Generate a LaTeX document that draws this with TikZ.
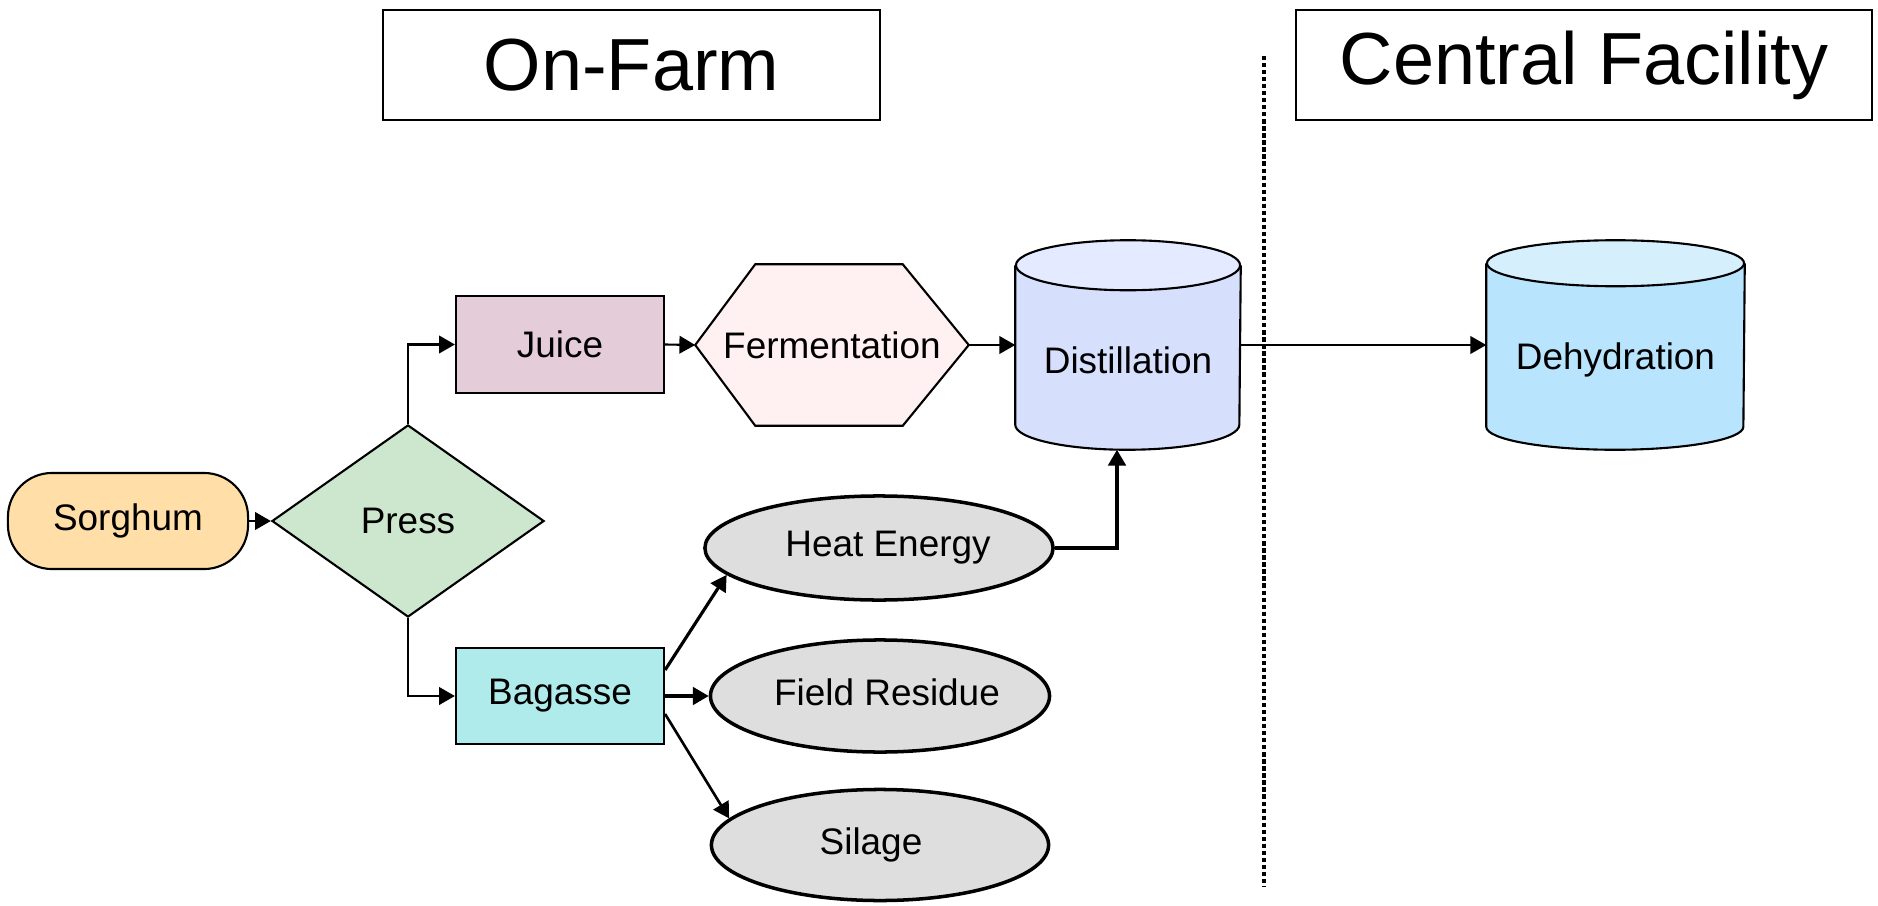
\documentclass[tikz,border=0pt]{standalone}
\usepackage{fontspec}
\setmainfont{Liberation Sans}
\usetikzlibrary{shapes.geometric,arrows.meta,backgrounds,calc}
\definecolor{sorgfill}{RGB}{255,222,168}
\definecolor{pressfill}{RGB}{205,230,206}
\definecolor{juicefill}{RGB}{228,204,217}
\definecolor{ferfill}{RGB}{255,241,241}
\definecolor{distbody}{RGB}{214,224,253}
\definecolor{disttop}{RGB}{228,234,255}
\definecolor{dehybody}{RGB}{184,228,253}
\definecolor{dehytop}{RGB}{213,239,253}
\definecolor{bagfill}{RGB}{176,235,235}
\definecolor{ovalgray}{RGB}{222,222,222}
\begin{document}
\begin{tikzpicture}[x=0.01cm,y=-0.01cm,
  font=\fontsize{10.5}{12}\selectfont,
  box/.style={draw, line width=0.6pt, inner sep=0pt},
  ghost/.style={inner sep=0pt},
  arr/.style={line width=0.6pt, -{Triangle[length=4.5pt,width=5pt]}},
  thickarr/.style={line width=0.9pt, -{Triangle[length=4.5pt,width=5pt]}},
  oval/.style={ellipse, draw, line width=1pt, fill=ovalgray, inner sep=0pt},
  titlebox/.style={draw, line width=0.6pt, font=\fontsize{21}{25}\selectfont, inner sep=0pt},
  cylline/.style={line width=0.6pt}]
\useasboundingbox (0,0) rectangle (1878,906);

% titles
\node[titlebox, minimum width=4.97cm, minimum height=1.10cm] (onfarm) at (631.5,65) {\raisebox{-0.03cm}{On-Farm}};
\node[titlebox, minimum width=5.76cm, minimum height=1.10cm] (central) at (1584,65) {\raisebox{-0.03cm}{Central Facility}};

% divider
\coordinate (divtop) at (1264,56);
\coordinate (divbot) at (1264,886);
\draw[line width=1.1pt, dash pattern=on 1.2pt off 0.8pt] (divtop) -- (divbot);

% nodes
\node[box, fill=sorgfill, rounded corners=0.44cm, minimum width=2.40cm, minimum height=0.96cm] (sorg) at (128,521) {\raisebox{-0.03cm}{Sorghum}};
\node[diamond, draw, line width=0.6pt, fill=pressfill, inner sep=0pt, minimum width=2.72cm, minimum height=1.92cm] (press) at (408,521) {Press};
\node[box, fill=juicefill, minimum width=2.08cm, minimum height=0.97cm] (juice) at (560,344.5) {Juice};
\node[box, fill=bagfill, minimum width=2.08cm, minimum height=0.96cm] (bag) at (560,696) {\raisebox{-0.04cm}{Bagasse}};
\node[ghost, minimum width=2.72cm, minimum height=1.60cm] (fer) at (832,345) {Fermentation};
\node[ghost, minimum width=2.24cm, minimum height=2.08cm] (dist) at (1128,345) {};
\node (distlabel) at ([yshift=-0.15cm]dist.center) {Distillation};
\node[ghost, minimum width=2.57cm, minimum height=2.08cm] (dehy) at (1615.5,345) {};
\node (dehylabel) at ([yshift=-0.15cm]dehy.center) {Dehydration};
\node[oval, minimum width=3.48cm, minimum height=1.04cm] (heat) at (879,548) {\hspace*{0.18cm}Heat Energy};
\node[oval, minimum width=3.37cm, minimum height=1.12cm] (field) at (880,696) {\raisebox{0.07cm}{\hspace*{0.14cm}Field Residue}};
\node[oval, minimum width=3.37cm, minimum height=1.11cm] (sil) at (880,845) {Silage\hspace*{0.18cm}};

% background shapes
\begin{scope}[on background layer]
  \filldraw[cylline, fill=ferfill] (fer.west) -- ([xshift=0.6cm]fer.north west) -- ([xshift=-0.66cm]fer.north east) -- (fer.east) -- ([xshift=-0.66cm]fer.south east) -- ([xshift=0.6cm]fer.south west) -- cycle;
  \filldraw[cylline, fill=distbody] ([yshift=-0.25cm]dist.north west) -- ([yshift=0.25cm]dist.south west) arc[start angle=180, end angle=360, x radius=1.12cm, y radius=0.25cm] -- ([yshift=-0.25cm]dist.north east);
  \filldraw[cylline, fill=disttop] ([yshift=-0.25cm]dist.north) ellipse[x radius=1.12cm, y radius=0.25cm];
  \filldraw[cylline, fill=dehybody] ([yshift=-0.23cm]dehy.north west) -- ([yshift=0.23cm]dehy.south west) arc[start angle=180, end angle=360, x radius=1.285cm, y radius=0.23cm] -- ([yshift=-0.23cm]dehy.north east);
  \filldraw[cylline, fill=dehytop] ([yshift=-0.23cm]dehy.north) ellipse[x radius=1.285cm, y radius=0.23cm];
\end{scope}

% connectors
\draw[arr] (sorg.east) -- (press.west);
\draw[arr] (press.north) |- (juice.west);
\draw[arr] (press.south) |- (bag.west);
\draw[arr] (juice.east) -- (fer.west);
\draw[arr] (fer.east) -- (dist.west);
\draw[arr] (dist.east) -- (dehy.west);
\draw[thickarr] (heat.east) -| ([xshift=-0.11cm]dist.south);
\draw[thickarr] ([yshift=-0.23cm]bag.north east) -- (heat.190);
\draw[thickarr] (bag.east) -- (field.west);
\draw[arr, line width=0.75pt] ([yshift=-0.18cm]bag.east) -- (sil.170);
\end{tikzpicture}
\end{document}
